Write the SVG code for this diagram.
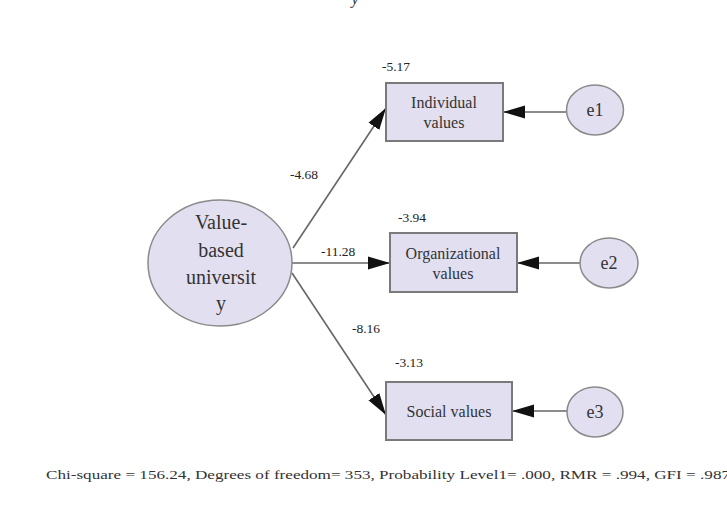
<svg xmlns="http://www.w3.org/2000/svg" width="727" height="508" viewBox="0 0 727 508">
<style>
.node{fill:#e2dff1;stroke:#7a7a7a;stroke-width:2}
.lat{fill:#e2dff1;stroke:#8a8a8a;stroke-width:1.5}
.t{font-family:"Liberation Serif","Times New Roman",serif;fill:#333;text-anchor:middle}
.nt{font-size:16px}
.lbl{font-family:"Liberation Serif","Times New Roman",serif;fill:#222;font-size:13.5px}
.c{stroke:#666;stroke-width:1.6;fill:none;marker-end:url(#ah)}
</style>
<defs>
<marker id="ah" markerUnits="userSpaceOnUse" markerWidth="22" markerHeight="14" viewBox="0 0 22 14" refX="22" refY="7" orient="auto">
<path d="M0,0.5 L22,7 L0,13.5 Z" fill="#111"/>
</marker>
</defs>
<rect width="727" height="508" fill="#fff"/>
<text x="355" y="4" class="t" style="font-size:16px;font-style:italic">y</text>
<g id="connectors">
<line class="c" x1="293" y1="248" x2="386" y2="108"/>
<line class="c" x1="292" y1="263" x2="390" y2="263"/>
<line class="c" x1="292" y1="273" x2="386" y2="415"/>
<line class="c" x1="566" y1="112" x2="503" y2="112"/>
<line class="c" x1="580" y1="263" x2="517" y2="263"/>
<line class="c" x1="567" y1="411" x2="512" y2="411"/>
<text class="lbl" x="290" y="179">-4.68</text>
<text class="lbl" x="321" y="256">-11.28</text>
<text class="lbl" x="352" y="333">-8.16</text>
</g>
<g id="vbu">
<ellipse class="lat" cx="220" cy="263" rx="72" ry="63"/>
<text class="t" x="221" y="229" style="font-size:20px">Value-</text>
<text class="t" x="221" y="257" style="font-size:20px">based</text>
<text class="t" x="221" y="284" style="font-size:20px">universit</text>
<text class="t" x="221" y="310" style="font-size:20px">y</text>
</g>
<g id="individual">
<rect class="node" x="386" y="83" width="117" height="58"/>
<text class="t nt" x="444" y="108">Individual</text>
<text class="t nt" x="444" y="128">values</text>
<text class="lbl" x="382" y="71">-5.17</text>
</g>
<g id="organizational">
<rect class="node" x="390" y="233" width="127" height="59"/>
<text class="t nt" x="453" y="259">Organizational</text>
<text class="t nt" x="453" y="279">values</text>
<text class="lbl" x="398" y="222">-3.94</text>
</g>
<g id="social">
<rect class="node" x="386" y="382" width="126" height="58"/>
<text class="t nt" x="449" y="417">Social values</text>
<text class="lbl" x="395" y="367">-3.13</text>
</g>
<g id="e1">
<ellipse class="lat" cx="595" cy="110" rx="28.5" ry="25"/>
<text class="t" x="595" y="116" style="font-size:18px">e1</text>
</g>
<g id="e2">
<ellipse class="lat" cx="609" cy="263" rx="29" ry="25"/>
<text class="t" x="609" y="269" style="font-size:18px">e2</text>
</g>
<g id="e3">
<ellipse class="lat" cx="595" cy="412" rx="28" ry="25"/>
<text class="t" x="595" y="418" style="font-size:18px">e3</text>
</g>
<text x="46" y="479" style="font-family:'Liberation Serif','Times New Roman',serif;font-size:12px;fill:#333" textLength="684" lengthAdjust="spacingAndGlyphs">Chi-square = 156.24, Degrees of freedom= 353, Probability Level1= .000, RMR = .994, GFI = .987</text>
</svg>
